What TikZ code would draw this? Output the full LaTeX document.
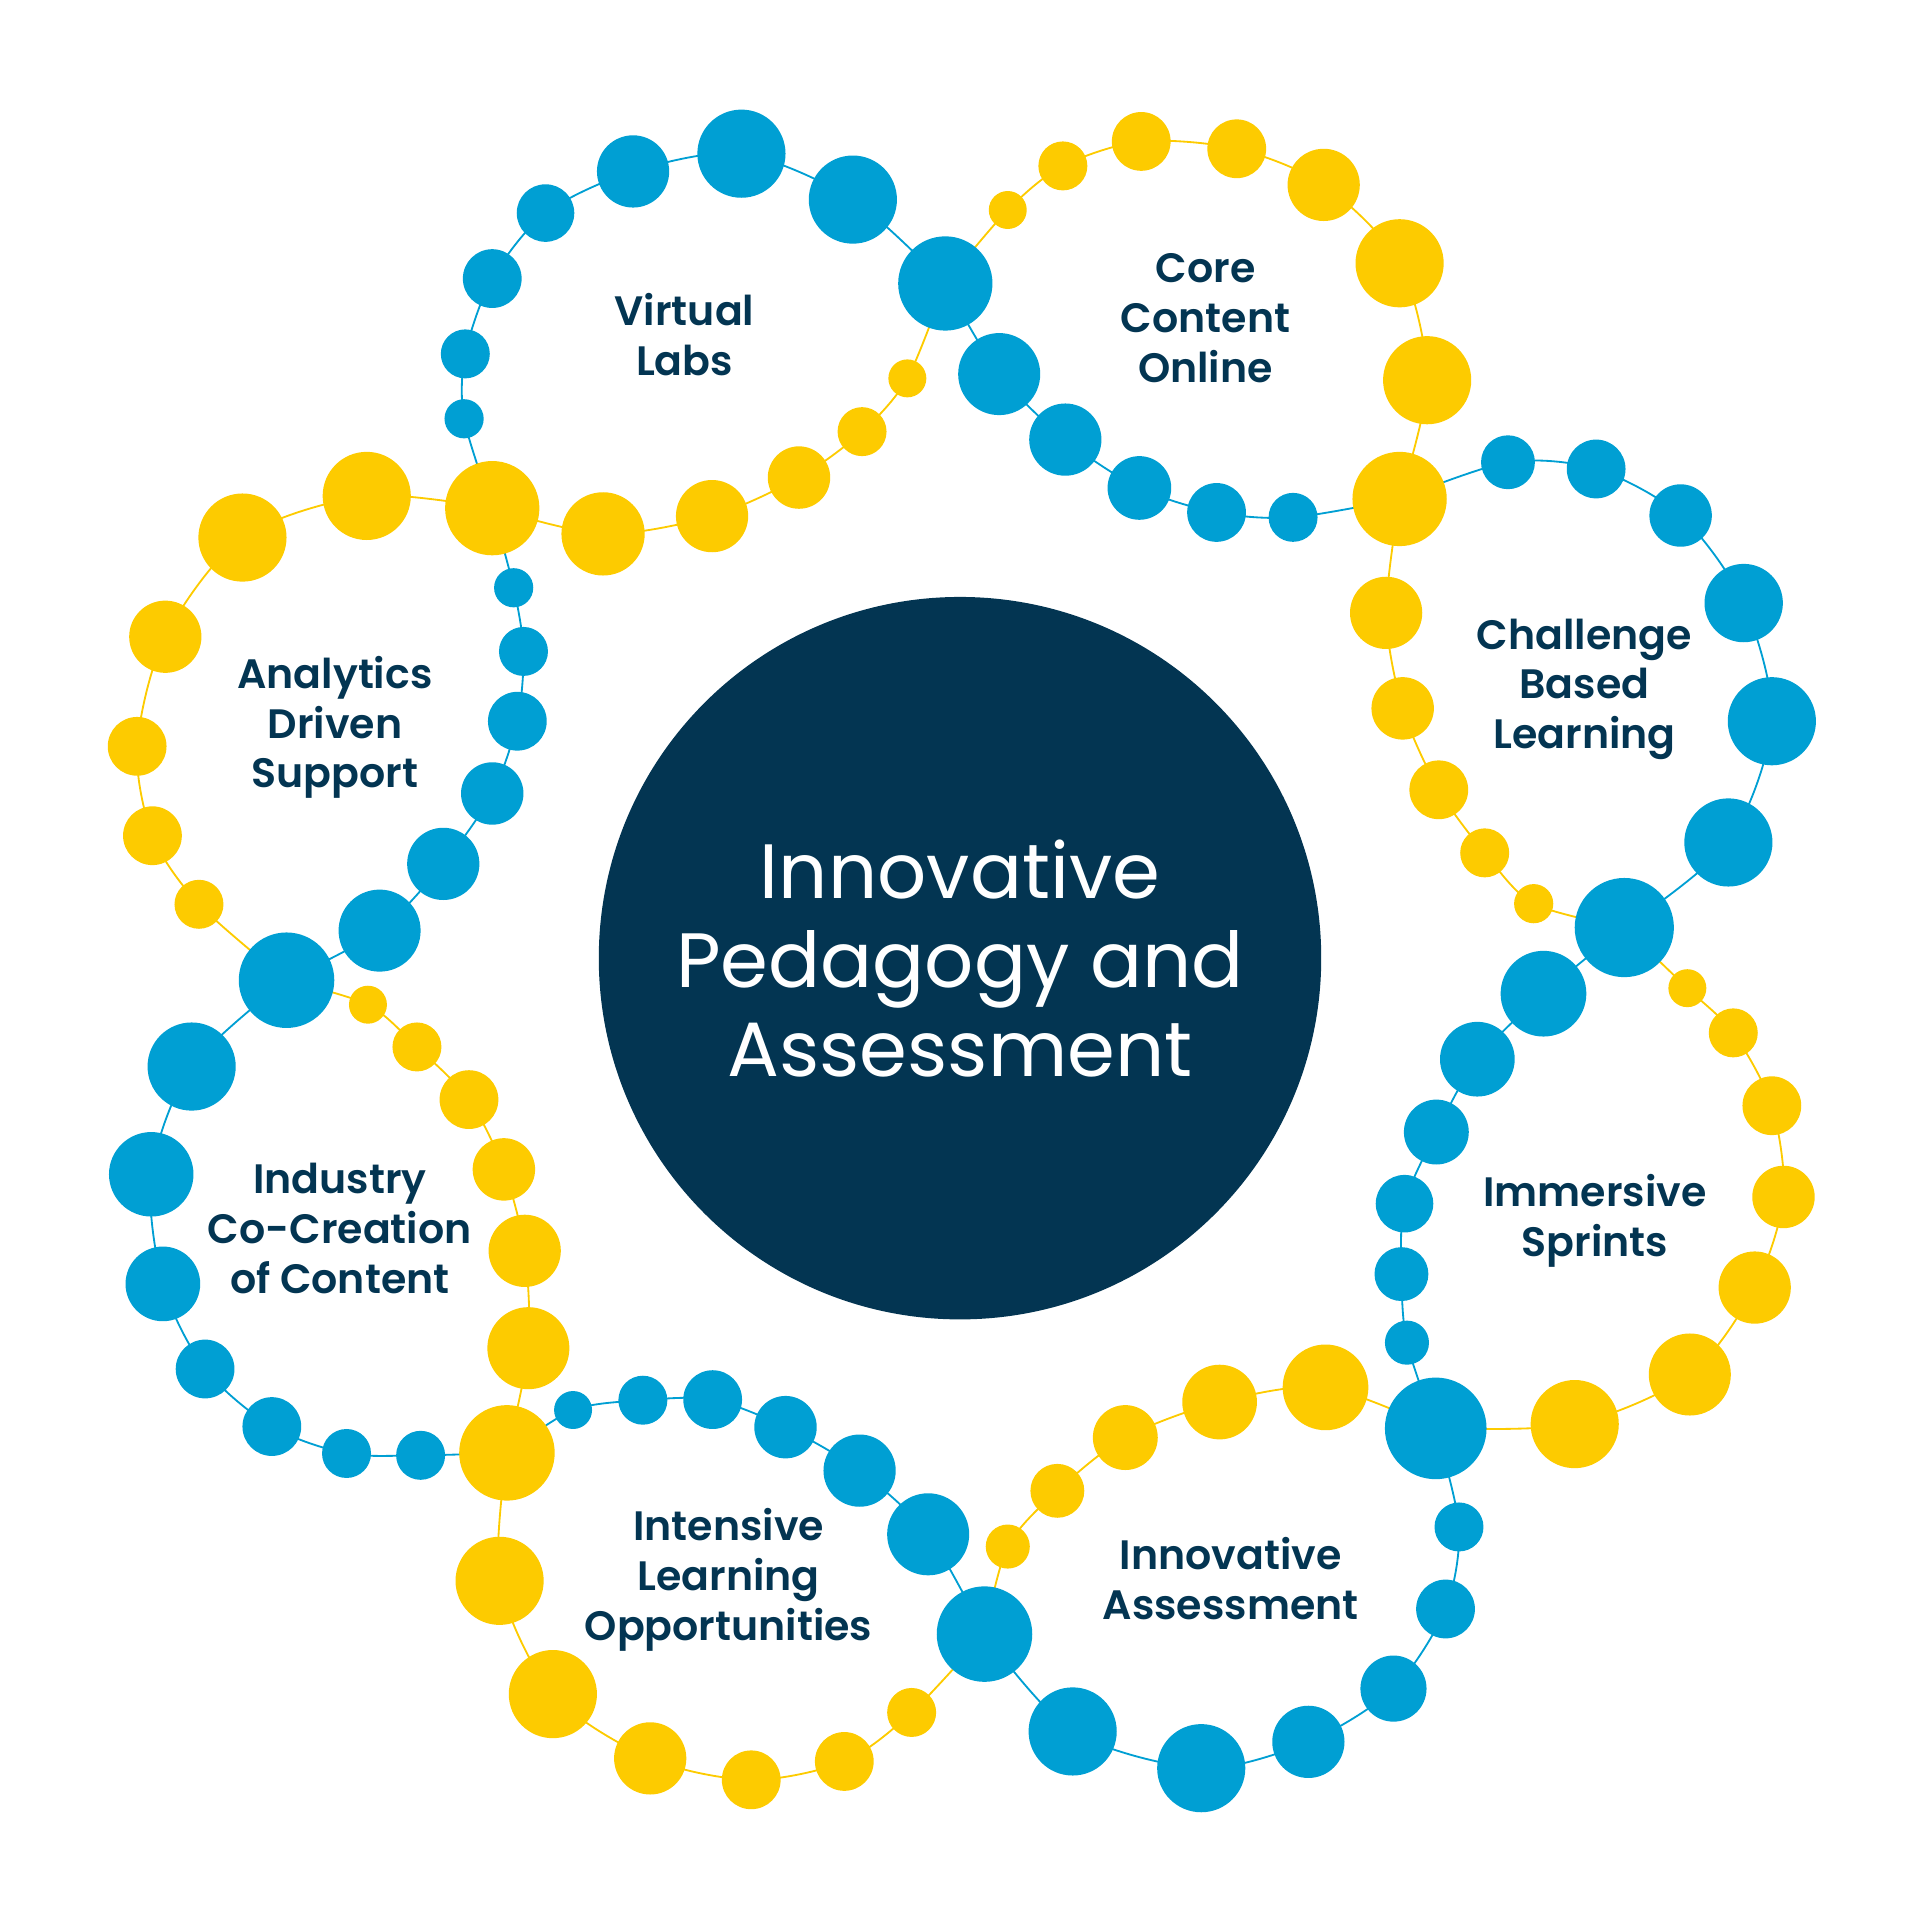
\documentclass[tikz,border=0pt]{standalone}
\usepackage{fontspec}
\setmainfont{Poppins}[BoldFont={Poppins SemiBold}]
\definecolor{dotblue}{HTML}{009FD3}
\definecolor{dotyellow}{HTML}{FDCB00}
\definecolor{navy}{HTML}{033552}
\begin{document}
\begin{tikzpicture}[line cap=round,line join=round,x=0.02cm,y=-0.02cm]
	\tikzset{lbl/.style={text=navy,align=center,font=\bfseries\fontsize{19.1}{23.2}\selectfont},
		hub/.style={text=white,align=center,font=\fontsize{35.8}{41.4}\selectfont},
		lb/.style={dotblue,line width=0.85pt,smooth},
		ly/.style={dotyellow,line width=0.85pt,smooth}}
	\useasboundingbox (0,0) rectangle (1568,1568);
	%--------- Centre
	\fill[navy] (784,782.5) circle (295);
	\node[hub] (hub) at (784,782.5) {Innovative\\Pedagogy and\\Assessment};
	%--------- Ring lines
	\draw[lb] plot coordinates {(402,415) (379,342) (380,289) (402,227.5) (445.5,174) (517,140) (605.5,125.5) (696.5,163) (772,231.5)};
	\draw[ly] plot coordinates {(772,231.5) (741,309) (704,352.5) (652.5,390) (581.5,421.5) (492.5,436) (402,415)};
	\draw[ly] plot coordinates {(772,231.5) (823,171.5) (868,135.5) (932,115.5) (1010,121.5) (1081,151) (1143,215) (1165.5,310.5) (1143,407.5)};
	\draw[lb] plot coordinates {(1143,407.5) (1056,422.5) (993.5,418.5) (930.5,398.5) (870,359) (816,305.5) (772,231.5)};
	\draw[lb] plot coordinates {(1143,407.5) (1231.5,377.5) (1303.5,383) (1372.5,421) (1424,492.5) (1447,589) (1411.5,688) (1326.5,757.5)};
	\draw[ly] plot coordinates {(1326.5,757.5) (1252.5,738) (1212.5,696.5) (1175,645) (1145.5,578.5) (1132,500.5) (1143,407.5)};
	\draw[ly] plot coordinates {(1326.5,757.5) (1378,807) (1415.5,843.5) (1447,903) (1456.5,977.5) (1433,1051.5) (1380,1122.5) (1286,1163) (1172.5,1166.5)};
	\draw[lb] plot coordinates {(1172.5,1166.5) (1149,1096.5) (1144.5,1040.5) (1147,983) (1173,924.5) (1206.5,865) (1260.5,811.5) (1326.5,757.5)};
	\draw[lb] plot coordinates {(1172.5,1166.5) (1191.5,1247) (1180.5,1314) (1138,1379) (1068.5,1422.5) (981,1444) (876,1414) (804,1334.5)};
	\draw[ly] plot coordinates {(804,1334.5) (823,1263) (863.5,1217.5) (919,1174) (996,1145) (1082.5,1133) (1172.5,1166.5)};
	\draw[ly] plot coordinates {(804,1334.5) (744.5,1398.5) (689.5,1438.5) (613.5,1453.5) (531,1436) (451.5,1383.5) (408,1291) (414,1186.5)};
	\draw[lb] plot coordinates {(414,1186.5) (468,1151.5) (525,1143.5) (582,1143) (641.5,1165.5) (702,1201) (758,1253) (804,1334.5)};
	\draw[lb] plot coordinates {(414,1186.5) (343.5,1188.5) (283,1187) (222,1165) (167.5,1118) (133,1048.5) (123.5,959) (156.5,871) (234,800.5)};
	\draw[ly] plot coordinates {(234,800.5) (300.5,820.5) (340.5,855) (383,898) (411.5,955) (428.5,1021.5) (431.5,1101) (414,1186.5)};
	\draw[ly] plot coordinates {(402,415) (299.5,405) (198,439) (135,520) (112,609.5) (124.5,682.5) (162.5,738.5) (234,800.5)};
	\draw[lb] plot coordinates {(234,800.5) (310,760) (362,705.5) (402,648) (422.5,589) (427.5,532) (419.5,480) (402,415)};
	%--------- Dots
	\foreach \x/\y/\r in {379/342/16,380/289/20,402/227.5/24,445.5/174/23.5,517/140/29.5,605.5/125.5/36,696.5/163/36,772/231.5/38.5,
		1056/422.5/20,993.5/418.5/24,930.5/398.5/26,870/359/29.5,816/305.5/33.5,
		1231.5/377.5/22,1303.5/383/24,1372.5/421/25.5,1424/492.5/32,1447/589/36,1411.5/688/36,1326.5/757.5/40.5,
		1149/1096.5/18,1144.5/1040.5/22,1147/983/23.5,1173/924.5/26.5,1206.5/865/30.5,1260.5/811.5/35,1172.5/1166.5/41.5,
		1191.5/1247/20,1180.5/1314/24,1138/1379/27,1068.5/1422.5/29.5,981/1444/36,876/1414/36,804/1334.5/39,
		468/1151.5/15.5,525/1143.5/20,582/1143/24,641.5/1165.5/25.5,702/1201/29.5,758/1253/33.5,
		343.5/1188.5/20,283/1187/20,222/1165/24,167.5/1118/24,133/1048.5/30.5,123.5/959/34.5,156.5/871/36,234/800.5/39,
		310/760/33.5,362/705.5/29.5,402/648/25.5,422.5/589/24,427.5/532/20,419.5/480/16}
		\fill[dotblue] (\x,\y) circle (\r);
	\foreach \x/\y/\r in {741/309/15.5,704/352.5/20,652.5/390/25.5,581.5/421.5/29.5,492.5/436/34,402/415/38.5,
		823/171.5/15.5,868/135.5/20,932/115.5/24,1010/121.5/24,1081/151/29.5,1143/215/36,1165.5/310.5/36,1143/407.5/38.5,
		1252.5/738/16,1212.5/696.5/20,1175/645/24,1145.5/578.5/25.5,1132/500.5/29.5,
		1378/807/15.5,1415.5/843.5/20,1447/903/24,1456.5/977.5/25.5,1433/1051.5/29.5,1380/1122.5/33.5,1286/1163/36,
		823/1263/18,863.5/1217.5/22,919/1174/26.5,996/1145/30.5,1082.5/1133/35,
		744.5/1398.5/20,689.5/1438.5/24,613.5/1453.5/24,531/1436/29.5,451.5/1383.5/36,408/1291/36,414/1186.5/39,
		300.5/820.5/15.5,340.5/855/20,383/898/24,411.5/955/25.5,428.5/1021.5/29.5,431.5/1101/33.5,
		299.5/405/36,198/439/36,135/520/29.5,112/609.5/24,124.5/682.5/24,162.5/738.5/20}
		\fill[dotyellow] (\x,\y) circle (\r);
	%--------- Labels
	\node[lbl] (vlabs) at (559,273) {Virtual\\Labs};
	\node[lbl] (core) at (984.5,259.5) {Core\\Content\\Online};
	\node[lbl] (chal) at (1294,563) {Challenge\\Based\\Learning};
	\node[lbl] (sprint) at (1302.5,997) {Immersive\\Sprints};
	\node[lbl] (assess) at (1005,1289.5) {Innovative\\Assessment};
	\node[lbl] (intens) at (595,1290) {Intensive\\Learning\\Opportunities};
	\node[lbl] (indus) at (277.5,1003.5) {Industry\\Co-Creation\\of Content};
	\node[lbl] (analy) at (273.5,594) {Analytics\\Driven\\Support};
\end{tikzpicture}
\end{document}
